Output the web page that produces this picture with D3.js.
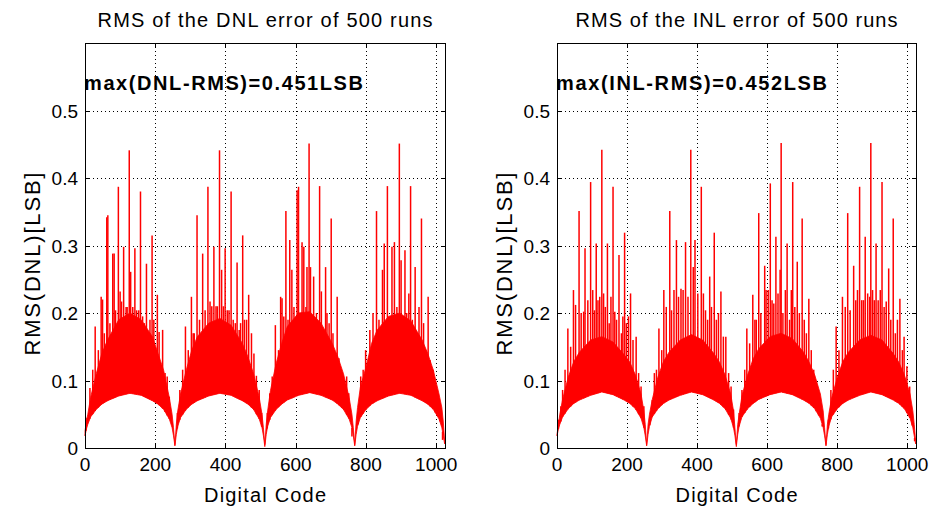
<!DOCTYPE html>
<html>
<head>
<meta charset="utf-8">
<script src="https://cdn.jsdelivr.net/npm/d3@7"></script>
<style>
  body { margin: 0; background: #fff; }
  svg { display: block; }
  text { font-family: "Liberation Sans", Arial, Helvetica, sans-serif; fill: #000; }
</style>
</head>
<body>
<svg id="chart" width="936" height="509"></svg>
<script>
// ---- data ----
const xTicks = [0, 200, 400, 600, 800, 1000];
const xTickLabels = ["0", "200", "400", "600", "800", "1000"];
const yTicks = [0, 0.1, 0.2, 0.3, 0.4, 0.5];
const yTickLabels = ["0", "0.1", "0.2", "0.3", "0.4", "0.5"];

// sample codes for the floor / dense band outlines
const bandCodes = [
  0, 4, 8, 16, 32, 48, 64, 96, 128, 160, 192, 208, 224, 240, 248, 252,
  256, 260, 264, 272, 288, 304, 320, 352, 384, 416, 448, 464, 480, 496, 504, 508,
  512, 516, 520, 528, 544, 560, 576, 608, 640, 672, 704, 720, 736, 752, 760, 764,
  768, 772, 776, 784, 800, 816, 832, 864, 896, 928, 960, 976, 992, 1008, 1016, 1020,
  1024
];

// lowest value of the trace (white below it)
const dnlFloor = [
  0.018, 0.028, 0.035, 0.046, 0.057, 0.065, 0.070, 0.077, 0.081, 0.078, 0.070, 0.065, 0.057, 0.043, 0.030, 0.018,
  0.003, 0.020, 0.032, 0.045, 0.057, 0.065, 0.070, 0.077, 0.081, 0.078, 0.070, 0.065, 0.057, 0.043, 0.030, 0.018,
  0.002, 0.020, 0.032, 0.045, 0.057, 0.065, 0.071, 0.078, 0.082, 0.078, 0.071, 0.065, 0.057, 0.043, 0.030, 0.018,
  0.003, 0.020, 0.032, 0.045, 0.057, 0.065, 0.070, 0.077, 0.081, 0.078, 0.070, 0.065, 0.057, 0.043, 0.030, 0.018,
  0.006
];
// top of the solid red band
const dnlBand = [
  0.025, 0.040, 0.050, 0.075, 0.110, 0.140, 0.160, 0.190, 0.200, 0.190, 0.165, 0.140, 0.115, 0.075, 0.050, 0.030,
  0.005, 0.035, 0.055, 0.080, 0.115, 0.145, 0.165, 0.185, 0.192, 0.182, 0.155, 0.135, 0.110, 0.075, 0.050, 0.030,
  0.005, 0.035, 0.055, 0.085, 0.125, 0.155, 0.180, 0.200, 0.202, 0.185, 0.155, 0.135, 0.110, 0.075, 0.050, 0.030,
  0.005, 0.040, 0.060, 0.090, 0.120, 0.155, 0.175, 0.195, 0.200, 0.188, 0.160, 0.140, 0.115, 0.080, 0.060, 0.040,
  0.010
];
const inlFloor = [
  0.018, 0.028, 0.035, 0.046, 0.058, 0.066, 0.071, 0.078, 0.083, 0.079, 0.071, 0.066, 0.058, 0.044, 0.030, 0.018,
  0.003, 0.020, 0.032, 0.046, 0.058, 0.066, 0.071, 0.078, 0.083, 0.079, 0.071, 0.066, 0.058, 0.044, 0.030, 0.018,
  0.002, 0.020, 0.032, 0.046, 0.058, 0.066, 0.072, 0.079, 0.083, 0.079, 0.071, 0.066, 0.058, 0.044, 0.030, 0.018,
  0.003, 0.020, 0.032, 0.046, 0.058, 0.066, 0.071, 0.078, 0.083, 0.079, 0.071, 0.066, 0.058, 0.044, 0.030, 0.018,
  0.006
];
const inlBand = [
  0.020, 0.035, 0.050, 0.072, 0.105, 0.128, 0.142, 0.160, 0.165, 0.157, 0.138, 0.127, 0.108, 0.080, 0.055, 0.035,
  0.005, 0.035, 0.050, 0.072, 0.105, 0.128, 0.142, 0.160, 0.168, 0.160, 0.140, 0.127, 0.108, 0.080, 0.055, 0.030,
  0.005, 0.035, 0.050, 0.077, 0.108, 0.132, 0.147, 0.165, 0.170, 0.162, 0.142, 0.127, 0.108, 0.080, 0.055, 0.030,
  0.005, 0.035, 0.050, 0.074, 0.104, 0.128, 0.142, 0.160, 0.167, 0.160, 0.140, 0.127, 0.108, 0.080, 0.055, 0.035,
  0.010
];

// single codes that stick out above the band [code, value]
const dnlSpikes = [
  [3,0.045],[14,0.089],[22,0.116],[29,0.18],[38,0.145],[46,0.224],[50,0.22],[55,0.17],[62,0.342],[65,0.345],
  [71,0.185],[79,0.288],[83,0.288],[87,0.204],[95,0.387],[100,0.232],[104,0.217],[110,0.298],[117,0.209],[120,0.209],
  [126,0.441],[130,0.261],[136,0.209],[142,0.296],[147,0.204],[153,0.204],[158,0.38],[164,0.195],[169,0.185],[175,0.273],
  [181,0.17],[185,0.19],[191,0.315],[196,0.19],[206,0.227],[211,0.172],[221,0.175],[228,0.111],[234,0.106],[240,0.076],
  [263,0.052],[270,0.086],[278,0.116],[286,0.18],[294,0.145],[303,0.224],[308,0.17],[311,0.17],[319,0.345],[326,0.19],
  [335,0.288],[342,0.204],[350,0.387],[356,0.217],[361,0.21],[367,0.298],[373,0.21],[377,0.21],[383,0.441],[389,0.264],
  [394,0.21],[399,0.296],[405,0.204],[410,0.204],[416,0.38],[422,0.19],[428,0.185],[433,0.275],[439,0.175],[443,0.185],
  [449,0.315],[454,0.19],[460,0.19],[466,0.227],[474,0.17],[481,0.14],[488,0.107],[496,0.086],[503,0.052],
  [519,0.052],[526,0.081],[533,0.106],[542,0.182],[551,0.145],[557,0.224],[561,0.222],[566,0.195],[572,0.351],[578,0.19],
  [583,0.308],[589,0.264],[595,0.209],[604,0.382],[608,0.387],[613,0.2],[618,0.305],[623,0.298],[629,0.209],[632,0.268],
  [638,0.451],[642,0.268],[651,0.254],[659,0.2],[668,0.388],[673,0.232],[685,0.268],[689,0.2],[695,0.185],[701,0.34],
  [706,0.17],[718,0.224],[723,0.133],[731,0.111],[737,0.091],[745,0.106],[751,0.081],[760,0.017],
  [778,0.052],[785,0.106],[792,0.116],[799,0.145],[811,0.175],[820,0.2],[830,0.351],[837,0.19],[847,0.264],[852,0.303],
  [861,0.388],[868,0.19],[874,0.298],[881,0.305],[888,0.209],[895,0.451],[900,0.278],[911,0.293],[916,0.2],[922,0.229],
  [927,0.388],[932,0.19],[940,0.268],[945,0.17],[951,0.209],[958,0.34],[964,0.185],[970,0.145],[977,0.224],[983,0.13],
  [991,0.116],[997,0.096],[1003,0.062],[1010,0.042],[1018,0.012]
];
const inlSpikes = [
  [4,0.042],[11,0.062],[16,0.086],[23,0.116],[31,0.177],[39,0.15],[47,0.234],[53,0.212],[63,0.351],[69,0.2],
  [76,0.202],[80,0.296],[88,0.219],[96,0.394],[102,0.234],[107,0.204],[112,0.303],[117,0.219],[122,0.224],[128,0.442],
  [133,0.229],[138,0.209],[144,0.303],[149,0.185],[154,0.224],[160,0.387],[165,0.202],[170,0.19],[177,0.286],[184,0.17],
  [188,0.195],[193,0.319],[198,0.185],[204,0.195],[210,0.229],[217,0.16],[226,0.165],[233,0.111],[240,0.091],[248,0.062],
  [265,0.042],[272,0.071],[278,0.111],[284,0.116],[291,0.177],[299,0.145],[305,0.234],[312,0.209],[322,0.351],[327,0.204],
  [334,0.234],[341,0.308],[347,0.224],[354,0.236],[360,0.234],[367,0.305],[374,0.224],[382,0.442],[389,0.268],[394,0.308],
  [402,0.229],[412,0.387],[418,0.229],[424,0.204],[430,0.19],[436,0.254],[441,0.209],[449,0.319],[455,0.19],[461,0.2],
  [468,0.232],[475,0.165],[482,0.165],[490,0.111],[497,0.091],[504,0.057],
  [520,0.052],[528,0.086],[536,0.116],[542,0.177],[550,0.155],[559,0.227],[565,0.19],[569,0.19],[576,0.348],[582,0.2],
  [593,0.27],[597,0.234],[603,0.234],[609,0.392],[614,0.219],[619,0.214],[625,0.313],[631,0.229],[637,0.264],[640,0.452],
  [645,0.2],[652,0.234],[657,0.303],[664,0.19],[669,0.234],[673,0.394],[679,0.209],[686,0.276],[692,0.2],[700,0.34],
  [706,0.19],[712,0.17],[719,0.221],[726,0.145],[733,0.116],[740,0.091],[747,0.062],[757,0.032],
  [775,0.042],[782,0.086],[789,0.116],[797,0.18],[805,0.145],[815,0.224],[823,0.209],[830,0.348],[837,0.204],[847,0.27],
  [853,0.219],[858,0.234],[864,0.387],[870,0.219],[875,0.219],[880,0.313],[887,0.229],[893,0.224],[896,0.452],[901,0.234],
  [906,0.219],[911,0.303],[917,0.219],[923,0.234],[928,0.394],[934,0.209],[940,0.217],[947,0.266],[953,0.19],[960,0.34],
  [966,0.17],[972,0.19],[979,0.221],[986,0.145],[991,0.165],[999,0.121],[1007,0.091],[1014,0.047],[1021,0.01]
];

const panels = [
  { title: "RMS of the DNL error of 500 runs", note: "max(DNL-RMS)=0.451LSB",
    floor: dnlFloor, band: dnlBand, spikes: dnlSpikes,
    left: 85, right: 445, titleLen: 335, noteLen: 279 },
  { title: "RMS of the INL error of 500 runs", note: "max(INL-RMS)=0.452LSB",
    floor: inlFloor, band: inlBand, spikes: inlSpikes,
    left: 557, right: 916, titleLen: 322, noteLen: 271 }
];

const plotTop = 43, plotBottom = 448;
const red = "#ff0000";
const svg = d3.select("#chart");

const drawPanel = (p) => {
  const x = d3.scaleLinear().domain([0, 1025]).range([p.left, p.right]);
  const y = d3.scaleLinear().domain([0, 0.6]).range([plotBottom, plotTop]);
  const floorAt = d3.scaleLinear().domain(bandCodes).range(p.floor).clamp(true);
  const g = svg.append("g");

  // dotted grid, under the data
  const grid = g.append("g")
    .attr("stroke", "#000")
    .attr("stroke-width", 1)
    .attr("stroke-dasharray", "1 3");
  grid.selectAll("line.gx")
    .data(xTicks.filter((t) => t > 0))
    .join("line")
    .attr("x1", (d) => Math.round(x(d)) + 0.5)
    .attr("x2", (d) => Math.round(x(d)) + 0.5)
    .attr("y1", plotBottom)
    .attr("y2", plotTop);
  grid.selectAll("line.gy")
    .data(yTicks.filter((t) => t > 0))
    .join("line")
    .attr("y1", (d) => Math.round(y(d)) + 0.5)
    .attr("y2", (d) => Math.round(y(d)) + 0.5)
    .attr("x1", p.left)
    .attr("x2", p.right);

  // solid band between floor and band top
  const area = d3.area()
    .x((d, i) => x(bandCodes[i]))
    .y0((d, i) => y(p.floor[i]))
    .y1((d) => y(d));
  g.append("path")
    .datum(p.band)
    .attr("d", area)
    .attr("fill", red)
    .attr("stroke", red)
    .attr("stroke-width", 0.8);

  // spikes
  g.append("g")
    .selectAll("line")
    .data(p.spikes)
    .join("line")
    .attr("x1", (d) => x(d[0]))
    .attr("x2", (d) => x(d[0]))
    .attr("y1", (d) => y(floorAt(d[0])))
    .attr("y2", (d) => y(d[1]))
    .attr("stroke", red)
    .attr("stroke-width", 1.5);

  // box + inward ticks
  g.append("rect")
    .attr("x", p.left + 0.5)
    .attr("y", plotTop + 0.5)
    .attr("width", p.right - p.left)
    .attr("height", plotBottom - plotTop)
    .attr("fill", "none")
    .attr("stroke", "#000")
    .attr("stroke-width", 1);

  const ticks = g.append("g").attr("stroke", "#000").attr("stroke-width", 1);
  xTicks.forEach((t) => {
    const px = Math.round(x(t)) + 0.5;
    ticks.append("line").attr("x1", px).attr("x2", px).attr("y1", plotBottom).attr("y2", plotBottom - 4);
    ticks.append("line").attr("x1", px).attr("x2", px).attr("y1", plotTop).attr("y2", plotTop + 4);
  });
  yTicks.forEach((t) => {
    const py = Math.round(y(t)) + 0.5;
    ticks.append("line").attr("x1", p.left).attr("x2", p.left + 4).attr("y1", py).attr("y2", py);
    ticks.append("line").attr("x1", p.right).attr("x2", p.right - 4).attr("y1", py).attr("y2", py);
  });

  // tick labels
  g.append("g")
    .selectAll("text")
    .data(xTicks)
    .join("text")
    .attr("x", (d) => x(d))
    .attr("y", 471)
    .attr("text-anchor", "middle")
    .attr("font-size", 19)
    .text((d, i) => xTickLabels[i]);
  g.append("g")
    .selectAll("text")
    .data(yTicks)
    .join("text")
    .attr("x", p.left - 7)
    .attr("y", (d) => y(d) + 7)
    .attr("text-anchor", "end")
    .attr("font-size", 19)
    .text((d, i) => yTickLabels[i]);

  // title, axis labels, note
  const cx = (p.left + p.right) / 2;
  g.append("text")
    .attr("x", cx)
    .attr("y", 27)
    .attr("text-anchor", "middle")
    .attr("font-size", 20)
    .attr("textLength", p.titleLen)
    .attr("lengthAdjust", "spacing")
    .text(p.title);
  g.append("text")
    .attr("x", cx)
    .attr("y", 502)
    .attr("text-anchor", "middle")
    .attr("font-size", 20)
    .attr("textLength", 122)
    .attr("lengthAdjust", "spacing")
    .text("Digital Code");
  g.append("text")
    .attr("transform", `translate(${p.left - 45},264) rotate(-90)`)
    .attr("text-anchor", "middle")
    .attr("font-size", 22)
    .attr("textLength", 183)
    .attr("lengthAdjust", "spacing")
    .text("RMS(DNL)[LSB]");
  g.append("text")
    .attr("x", p.left - 1)
    .attr("y", 90)
    .attr("font-size", 20)
    .attr("font-weight", "bold")
    .attr("textLength", p.noteLen)
    .attr("lengthAdjust", "spacing")
    .text(p.note);
};

panels.forEach(drawPanel);
</script>
</body>
</html>
